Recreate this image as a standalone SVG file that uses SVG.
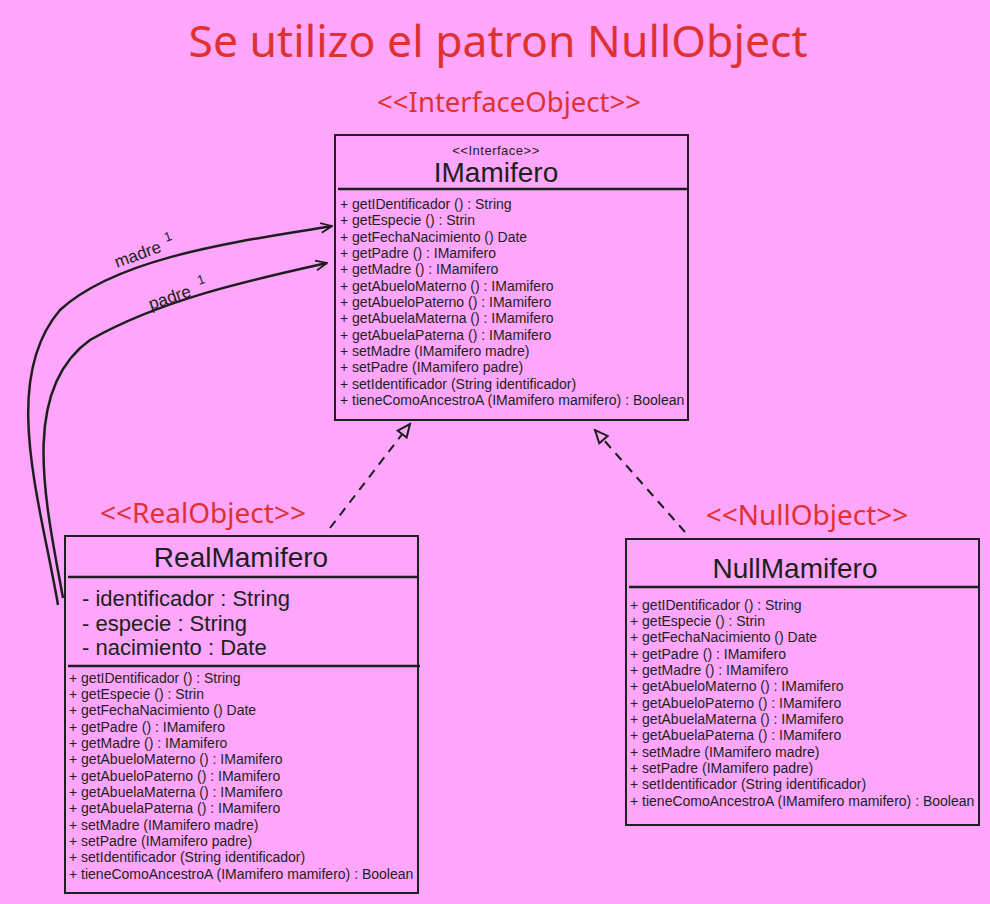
<svg xmlns="http://www.w3.org/2000/svg" width="990" height="904" viewBox="0 0 990 904">
<defs>
<style>
.bg{fill:#fda6fb}
.box{fill:none;stroke:#1e1e1e;stroke-width:2}
.div{stroke:#1e1e1e;stroke-width:2.5}
.red{font-family:"Noto Sans","Liberation Sans",sans-serif;fill:#e03131;text-anchor:middle}
.hand{font-family:"Liberation Sans",sans-serif;fill:#1e1e1e}
.m{font-size:14px}
.t{font-size:28px;text-anchor:middle}
.a{font-size:22px}
.conn{fill:none;stroke:#1e1e1e;stroke-width:2.5}
.dash{fill:none;stroke:#1e1e1e;stroke-width:2;stroke-dasharray:9 7}
</style>
<marker id="open" viewBox="0 0 20 20" refX="18" refY="10" markerWidth="14" markerHeight="14" markerUnits="userSpaceOnUse" orient="auto"><polyline points="2,3 18,10 2,17" fill="none" stroke="#1e1e1e" stroke-width="2.5"/></marker>
<marker id="tri" viewBox="0 0 20 20" refX="18" refY="10" markerWidth="16" markerHeight="16" markerUnits="userSpaceOnUse" orient="auto"><polygon points="2,3 18,10 2,17" fill="#fda6fb" stroke="#1e1e1e" stroke-width="2.5"/></marker>
</defs>
<rect class="bg" x="0" y="0" width="990" height="904"/>
<text class="red" x="498" y="57" font-size="44.5">Se utilizo el patron NullObject</text>
<text class="red" x="509" y="112" font-size="27.5">&lt;&lt;InterfaceObject&gt;&gt;</text>
<text class="red" x="203" y="523" font-size="28">&lt;&lt;RealObject&gt;&gt;</text>
<text class="red" x="807" y="525" font-size="28">&lt;&lt;NullObject&gt;&gt;</text>

<g id="connectors">
<path class="conn" marker-end="url(#open)" d="M58,605 C40,500 0,380 60,310 C120,255 250,240 332,226"/>
<path class="conn" marker-end="url(#open)" d="M63,598 C45,500 20,390 90,340 C160,300 250,280 327,263"/>
<text class="hand" font-size="17" transform="translate(117,268) rotate(-20)">madre</text>
<text class="hand" font-size="13" transform="translate(166,242) rotate(-20)">1</text>
<text class="hand" font-size="17" transform="translate(151,310) rotate(-19)">padre</text>
<text class="hand" font-size="13" transform="translate(199,285) rotate(-19)">1</text>
<path class="dash" marker-end="url(#tri)" d="M330,528 L410,424"/>
<path class="dash" marker-end="url(#tri)" d="M685,532 L595,430"/>
</g>

<g id="IMamifero">
<rect class="box" x="335" y="135" width="353" height="285"/>
<line class="div" x1="338" y1="189" x2="688" y2="189"/>
<text class="hand" x="496" y="155" font-size="13" letter-spacing="0.5" text-anchor="middle">&lt;&lt;Interface&gt;&gt;</text>
<text class="hand t" x="496" y="182">IMamifero</text>
<g class="hand m">
<text x="340" y="209">+ getIDentificador () : String</text>
<text x="340" y="225">+ getEspecie () : Strin</text>
<text x="340" y="242">+ getFechaNacimiento () Date</text>
<text x="340" y="258">+ getPadre () : IMamifero</text>
<text x="340" y="274">+ getMadre () : IMamifero</text>
<text x="340" y="291">+ getAbueloMaterno () : IMamifero</text>
<text x="340" y="307">+ getAbueloPaterno () : IMamifero</text>
<text x="340" y="323">+ getAbuelaMaterna () : IMamifero</text>
<text x="340" y="340">+ getAbuelaPaterna () : IMamifero</text>
<text x="340" y="356">+ setMadre (IMamifero madre)</text>
<text x="340" y="372">+ setPadre (IMamifero padre)</text>
<text x="340" y="389">+ setIdentificador (String identificador)</text>
<text x="340" y="405">+ tieneComoAncestroA (IMamifero mamifero) : Boolean</text>
</g>
</g>

<g id="RealMamifero">
<rect class="box" x="65" y="536" width="353" height="357"/>
<line class="div" x1="68" y1="577" x2="418" y2="577"/>
<text class="hand t" x="241" y="567">RealMamifero</text>
<g class="hand a">
<text x="82" y="606">- identificador : String</text>
<text x="82" y="631">- especie : String</text>
<text x="82" y="655">- nacimiento : Date</text>
</g>
<line class="div" x1="68" y1="666" x2="420" y2="666"/>
<g class="hand m">
<text x="69" y="683">+ getIDentificador () : String</text>
<text x="69" y="699">+ getEspecie () : Strin</text>
<text x="69" y="715">+ getFechaNacimiento () Date</text>
<text x="69" y="732">+ getPadre () : IMamifero</text>
<text x="69" y="748">+ getMadre () : IMamifero</text>
<text x="69" y="764">+ getAbueloMaterno () : IMamifero</text>
<text x="69" y="781">+ getAbueloPaterno () : IMamifero</text>
<text x="69" y="797">+ getAbuelaMaterna () : IMamifero</text>
<text x="69" y="813">+ getAbuelaPaterna () : IMamifero</text>
<text x="69" y="830">+ setMadre (IMamifero madre)</text>
<text x="69" y="846">+ setPadre (IMamifero padre)</text>
<text x="69" y="862">+ setIdentificador (String identificador)</text>
<text x="69" y="879">+ tieneComoAncestroA (IMamifero mamifero) : Boolean</text>
</g>
</g>

<g id="NullMamifero">
<rect class="box" x="626" y="539" width="353" height="286"/>
<line class="div" x1="629" y1="587" x2="980" y2="587"/>
<text class="hand t" x="795" y="578">NullMamifero</text>
<g class="hand m">
<text x="630" y="610">+ getIDentificador () : String</text>
<text x="630" y="626">+ getEspecie () : Strin</text>
<text x="630" y="642">+ getFechaNacimiento () Date</text>
<text x="630" y="659">+ getPadre () : IMamifero</text>
<text x="630" y="675">+ getMadre () : IMamifero</text>
<text x="630" y="691">+ getAbueloMaterno () : IMamifero</text>
<text x="630" y="708">+ getAbueloPaterno () : IMamifero</text>
<text x="630" y="724">+ getAbuelaMaterna () : IMamifero</text>
<text x="630" y="740">+ getAbuelaPaterna () : IMamifero</text>
<text x="630" y="757">+ setMadre (IMamifero madre)</text>
<text x="630" y="773">+ setPadre (IMamifero padre)</text>
<text x="630" y="789">+ setIdentificador (String identificador)</text>
<text x="630" y="806">+ tieneComoAncestroA (IMamifero mamifero) : Boolean</text>
</g>
</g>
</svg>
